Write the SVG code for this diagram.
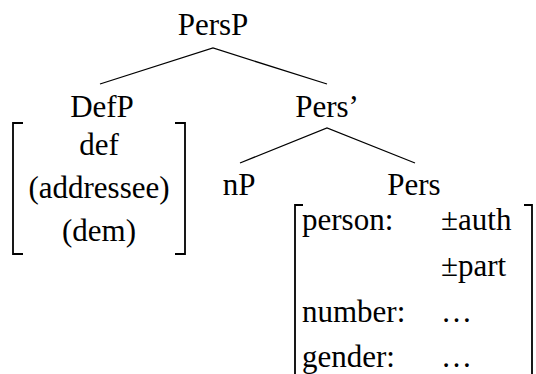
<svg xmlns="http://www.w3.org/2000/svg" width="536" height="374" viewBox="0 0 536 374">
  <style>
    .c { text-anchor: middle; }
    .edge, .br { stroke: #000; stroke-width: 1.3; fill: none; }
    .br { stroke-width: 1.8; }
  </style>
  <rect width="536" height="374" fill="#fff"/>

  <!-- tree branches -->
  <g id="connectors">
    <path class="edge" d="M100,84 L213,48 L327,84"/>
    <path class="edge" d="M240,163 L327,128 L415,163"/>
  </g>

  <g font-family="Liberation Serif, DejaVu Serif, serif" font-size="31" fill="#000">
  <g id="PersP">
    <text class="c" x="213" y="35">PersP</text>
  </g>

  <g id="DefP">
    <text class="c" x="102" y="117">DefP</text>
    <path class="br" d="M23,123 H13 V254 H23"/>
    <path class="br" d="M175,123 H185 V254 H175"/>
    <text class="c" x="99" y="155">def</text>
    <text class="c" x="99" y="198">(addressee)</text>
    <text class="c" x="99" y="241">(dem)</text>
  </g>

  <g id="PersBar">
    <text class="c" x="327" y="117">Pers’</text>
  </g>

  <g id="nP">
    <text class="c" x="239" y="195">nP</text>
  </g>

  <g id="Pers">
    <text class="c" x="414" y="195">Pers</text>
    <path class="br" d="M303,205 H295 V380"/>
    <path class="br" d="M524,205 H532 V380"/>
    <text x="302" y="230">person:</text>
    <text x="441" y="230">±auth</text>
    <text x="441" y="276">±part</text>
    <text x="302" y="322">number:</text>
    <text x="441" y="322">…</text>
    <text x="302" y="367">gender:</text>
    <text x="441" y="367">…</text>
  </g>
  </g>
</svg>
